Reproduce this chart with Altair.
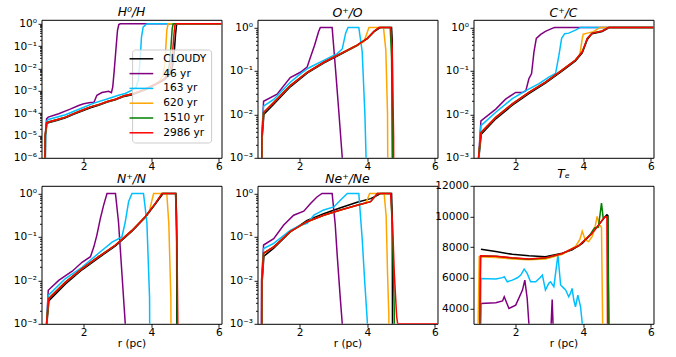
import math
import altair as alt
import pandas as pd

SERIES = ["CLOUDY", "46 yr", "163 yr", "620 yr", "1510 yr", "2986 yr"]
COLORS = ["#000000", "#800080", "#00bfff", "#ffa500", "#008000", "#ff0000"]
FONT = "DejaVu Sans"

# ---------------- H0/H : (r [pc], fraction) ----------------
h0_cloudy = [(0.85, 1e-8), (0.87, 1e-5), (0.91, 3.4e-5), (0.95, 3.7e-5), (1.20, 4.6e-5), (1.46, 6.1e-5),
             (1.70, 8.8e-5), (1.95, 1.25e-4), (2.20, 1.75e-4), (2.44, 2.25e-4), (2.70, 3.1e-4), (2.94, 3.9e-4),
             (3.20, 5.6e-4), (3.43, 6.6e-4), (3.80, 1.08e-3), (4.10, 1.8e-3), (4.37, 3.0e-3), (4.55, 5.5e-3),
             (4.63, 1.2e-2), (4.68, 5e-2), (4.72, 0.35), (4.75, 0.9), (4.78, 1.0), (6.10, 1.0)]
h0_46 = [(0.84, 1e-8), (0.86, 1e-5), (0.90, 5.5e-5), (0.95, 6.6e-5), (1.26, 9.3e-5), (1.60, 1.5e-4),
         (1.85, 2.2e-4), (2.00, 2.6e-4), (2.20, 2.95e-4), (2.30, 2.95e-4), (2.39, 6.3e-4), (2.54, 8.3e-4),
         (2.74, 9.5e-4), (2.82, 8.3e-4), (2.86, 1.5e-3), (2.90, 7e-3), (2.95, 6e-2), (3.00, 0.5),
         (3.04, 0.92), (3.08, 1.0), (6.10, 1.0)]
h0_163 = [(0.85, 1e-8), (0.87, 1e-5), (0.91, 4.5e-5), (0.95, 5.2e-5), (1.46, 8.5e-5), (1.95, 1.7e-4),
          (2.30, 2.8e-4), (2.74, 4.5e-4), (3.03, 6.3e-4), (3.23, 7.6e-4), (3.43, 1.07e-3), (3.55, 1.4e-3),
          (3.62, 3.2e-3), (3.67, 2.5e-2), (3.71, 0.25), (3.76, 0.7), (3.85, 0.95), (3.92, 1.0), (6.10, 1.0)]
h0_620 = [(0.84, 1e-8), (0.86, 1e-5), (0.90, 3.7e-5), (0.95, 4.0e-5), (1.20, 5.0e-5), (1.46, 6.6e-5),
          (1.70, 9.5e-5), (1.95, 1.35e-4), (2.20, 1.9e-4), (2.44, 2.4e-4), (2.70, 3.3e-4), (2.94, 4.2e-4),
          (3.20, 6.0e-4), (3.43, 7.1e-4), (3.80, 1.15e-3), (4.10, 1.9e-3), (4.25, 2.8e-3), (4.35, 5e-3),
          (4.40, 1.5e-2), (4.43, 8e-2), (4.46, 0.5), (4.50, 1.0), (6.10, 1.0)]
h0_1510 = [(0.84, 1e-8), (0.86, 1e-5), (0.90, 3.7e-5), (0.95, 4.0e-5), (1.20, 5.0e-5), (1.46, 6.6e-5),
           (1.70, 9.5e-5), (1.95, 1.35e-4), (2.20, 1.9e-4), (2.44, 2.4e-4), (2.70, 3.3e-4), (2.94, 4.2e-4),
           (3.20, 6.0e-4), (3.43, 7.1e-4), (3.80, 1.15e-3), (4.10, 1.9e-3), (4.37, 3.2e-3), (4.45, 5e-3),
           (4.53, 1.3e-2), (4.58, 8e-2), (4.62, 0.6), (4.65, 1.0), (6.10, 1.0)]
h0_2986 = [(0.84, 1e-8), (0.86, 1e-5), (0.90, 3.7e-5), (0.95, 4.0e-5), (1.20, 5.0e-5), (1.46, 6.6e-5),
           (1.70, 9.5e-5), (1.95, 1.35e-4), (2.20, 1.9e-4), (2.44, 2.4e-4), (2.70, 3.3e-4), (2.94, 4.2e-4),
           (3.20, 6.0e-4), (3.43, 7.1e-4), (3.80, 1.15e-3), (4.10, 1.9e-3), (4.37, 3.2e-3), (4.50, 5.5e-3),
           (4.58, 1.2e-2), (4.63, 5e-2), (4.67, 0.3), (4.70, 0.85), (4.73, 1.0), (6.10, 1.0)]

# ---------------- O+/O ----------------
o_cloudy = [(0.85, 1e-8), (0.89, 3e-3), (0.94, 1.0e-2), (1.23, 1.7e-2), (1.72, 4.3e-2), (2.22, 8.9e-2),
            (2.71, 0.152), (3.21, 0.24), (3.70, 0.38), (4.00, 0.55), (4.20, 0.8), (4.40, 1.0), (4.72, 1.0),
            (4.74, 0.5), (4.76, 1e-8)]
o_46 = [(0.83, 1e-8), (0.88, 3e-3), (0.93, 2.0e-2), (1.33, 2.9e-2), (1.72, 7e-2), (2.02, 9.3e-2),
        (2.22, 0.123), (2.32, 0.21), (2.44, 0.39), (2.56, 0.81), (2.61, 1.0), (2.96, 1.0), (3.06, 0.11),
        (3.16, 1.1e-2), (3.26, 1e-3), (3.30, 1e-8)]
o_163 = [(0.85, 1e-8), (0.89, 5e-3), (0.93, 1.55e-2), (1.23, 2.2e-2), (1.72, 5.5e-2), (2.02, 8.5e-2),
         (2.25, 0.115), (2.32, 0.123), (2.71, 0.174), (3.11, 0.25), (3.26, 0.32), (3.36, 0.74), (3.43, 1.0),
         (3.75, 1.0), (3.85, 0.28), (3.93, 1e-2), (4.00, 1e-4), (4.02, 1e-8)]
o_620 = [(0.84, 1e-8), (0.88, 3e-3), (0.93, 1.1e-2), (1.23, 1.86e-2), (1.72, 4.6e-2), (2.22, 9.3e-2),
         (2.71, 0.158), (3.21, 0.25), (3.70, 0.39), (3.90, 0.47), (3.98, 0.7), (4.05, 1.0), (4.48, 1.0),
         (4.55, 0.3), (4.60, 1e-2), (4.64, 1e-8)]
o_1510 = [(0.84, 1e-8), (0.88, 3e-3), (0.93, 1.1e-2), (1.23, 1.86e-2), (1.72, 4.6e-2), (2.22, 9.3e-2),
          (2.71, 0.158), (3.21, 0.25), (3.70, 0.39), (4.00, 0.56), (4.20, 0.81), (4.35, 1.0), (4.68, 1.0),
          (4.72, 0.2), (4.75, 1e-3), (4.77, 1e-8)]
o_2986 = [(0.84, 1e-8), (0.88, 3e-3), (0.93, 1.1e-2), (1.23, 1.86e-2), (1.72, 4.6e-2), (2.22, 9.3e-2),
          (2.71, 0.158), (3.21, 0.25), (3.70, 0.39), (4.00, 0.56), (4.20, 0.81), (4.35, 1.0), (4.70, 1.0),
          (4.74, 0.3), (4.78, 3e-3), (4.80, 1e-8)]

# ---------------- C+/C ----------------
c_cloudy = [(0.88, 1e-8), (0.91, 1e-3), (0.98, 3.5e-3), (1.41, 7.9e-3), (1.90, 1.62e-2), (2.39, 3.0e-2),
            (2.88, 5.2e-2), (3.38, 0.1), (3.77, 0.17), (3.97, 0.26), (4.05, 0.38), (4.12, 0.53), (4.26, 0.72),
            (4.56, 0.8), (4.78, 1.0), (6.10, 1.0)]
c_46 = [(0.87, 1e-8), (0.90, 1e-3), (0.97, 7.1e-3), (1.41, 1.32e-2), (1.70, 2.24e-2), (2.00, 3.2e-2),
        (2.20, 3.2e-2), (2.30, 3.5e-2), (2.39, 6.6e-2), (2.47, 8.7e-2), (2.54, 0.27), (2.61, 0.56),
        (2.74, 0.69), (2.88, 0.81), (3.08, 0.95), (3.15, 1.0), (6.10, 1.0)]
c_163 = [(0.88, 1e-8), (0.91, 1e-3), (0.97, 5.5e-3), (1.41, 1.12e-2), (1.90, 2.3e-2), (2.30, 3.5e-2),
         (2.69, 5.1e-2), (2.98, 7.2e-2), (3.18, 8.7e-2), (3.28, 0.23), (3.36, 0.56), (3.45, 0.72),
         (3.57, 0.74), (3.77, 0.87), (3.92, 1.0), (6.10, 1.0)]
c_620 = [(0.87, 1e-8), (0.90, 1e-3), (0.97, 3.8e-3), (1.41, 8.5e-3), (1.90, 1.74e-2), (2.39, 3.2e-2),
         (2.88, 5.5e-2), (3.38, 0.105), (3.77, 0.178), (3.90, 0.24), (3.97, 0.55), (4.00, 0.7), (4.12, 0.74),
         (4.30, 0.8), (4.50, 1.0), (6.10, 1.0)]
c_1510 = [(0.87, 1e-8), (0.90, 1e-3), (0.97, 3.8e-3), (1.41, 8.5e-3), (1.90, 1.74e-2), (2.39, 3.2e-2),
          (2.88, 5.5e-2), (3.38, 0.105), (3.77, 0.178), (3.97, 0.275), (4.05, 0.4), (4.12, 0.56),
          (4.26, 0.74), (4.56, 0.83), (4.75, 1.0), (6.10, 1.0)]
c_2986 = [(0.87, 1e-8), (0.90, 1e-3), (0.97, 3.8e-3), (1.41, 8.5e-3), (1.90, 1.74e-2), (2.39, 3.2e-2),
          (2.88, 5.5e-2), (3.38, 0.105), (3.77, 0.178), (3.97, 0.275), (4.05, 0.4), (4.12, 0.56),
          (4.26, 0.74), (4.56, 0.83), (4.75, 1.0), (6.10, 1.0)]

# ---------------- N+/N ----------------
n_cloudy = [(0.87, 1e-8), (0.91, 1e-3), (0.97, 3.4e-3), (1.46, 8.3e-3), (1.95, 1.75e-2), (2.44, 3.3e-2),
            (2.94, 6.2e-2), (3.43, 0.135), (3.82, 0.28), (4.12, 0.57), (4.35, 1.0), (4.73, 1.0),
            (4.75, 0.3), (4.77, 1e-8)]
n_46 = [(0.87, 1e-8), (0.90, 1e-3), (0.95, 5.9e-3), (1.26, 1.0e-2), (1.66, 1.62e-2), (1.95, 2.6e-2),
        (2.20, 3.5e-2), (2.30, 5.9e-2), (2.39, 0.11), (2.49, 0.26), (2.59, 0.54), (2.69, 1.0), (2.94, 1.0),
        (3.03, 0.22), (3.13, 1.5e-2), (3.23, 1e-3), (3.26, 1e-8)]
n_163 = [(0.87, 1e-8), (0.90, 1e-3), (0.95, 4.5e-3), (1.46, 1.1e-2), (1.95, 2.0e-2), (2.44, 4.2e-2),
         (2.84, 7.6e-2), (3.13, 0.1), (3.23, 0.22), (3.33, 0.65), (3.43, 1.0), (3.77, 1.0), (3.87, 0.22),
         (3.95, 4e-3), (3.98, 1e-8)]
n_620 = [(0.86, 1e-8), (0.90, 1e-3), (0.96, 3.8e-3), (1.46, 9.1e-3), (1.95, 1.86e-2), (2.44, 3.5e-2),
         (2.94, 6.5e-2), (3.43, 0.141), (3.82, 0.29), (3.95, 0.4), (4.00, 0.6), (4.07, 1.0), (4.46, 1.0),
         (4.52, 0.2), (4.58, 4e-3), (4.62, 1e-8)]
n_1510 = [(0.86, 1e-8), (0.90, 1e-3), (0.96, 3.8e-3), (1.46, 9.1e-3), (1.95, 1.86e-2), (2.44, 3.5e-2),
          (2.94, 6.5e-2), (3.43, 0.141), (3.82, 0.29), (4.12, 0.59), (4.32, 1.0), (4.72, 1.0),
          (4.76, 0.05), (4.79, 1e-8)]
n_2986 = [(0.86, 1e-8), (0.90, 1e-3), (0.96, 3.8e-3), (1.46, 9.1e-3), (1.95, 1.86e-2), (2.44, 3.5e-2),
          (2.94, 6.5e-2), (3.43, 0.141), (3.82, 0.29), (4.12, 0.59), (4.32, 1.0), (4.72, 1.0),
          (4.76, 0.1), (4.80, 1e-4), (4.82, 1e-8)]

# ---------------- Ne+/Ne ----------------
ne_cloudy = [(0.86, 1e-8), (0.89, 1e-2), (0.94, 3.6e-2), (1.23, 5.5e-2), (1.72, 0.13), (2.22, 0.24),
             (2.71, 0.34), (3.21, 0.47), (3.70, 0.63), (4.10, 0.76), (4.30, 0.9), (4.40, 1.0), (4.72, 1.0),
             (4.74, 0.3), (4.76, 1e-8)]
ne_46 = [(0.83, 1e-8), (0.87, 1e-2), (0.93, 6.5e-2), (1.23, 9.1e-2), (1.52, 0.186), (1.82, 0.316),
         (2.12, 0.39), (2.32, 0.59), (2.51, 0.83), (2.66, 1.0), (2.96, 1.0), (3.05, 0.2), (3.11, 3.8e-2),
         (3.20, 4e-3), (3.26, 1e-3), (3.30, 1e-8)]
ne_163 = [(0.85, 1e-8), (0.88, 1e-2), (0.93, 5.4e-2), (1.23, 7.1e-2), (1.72, 0.141), (2.02, 0.186),
          (2.22, 0.204), (2.42, 0.316), (2.71, 0.417), (3.01, 0.49), (3.21, 0.71), (3.41, 1.0), (3.75, 1.0),
          (3.85, 9e-2), (3.93, 8e-3), (4.00, 1.2e-3), (4.03, 1e-8)]
ne_620 = [(0.85, 1e-8), (0.88, 1e-2), (0.93, 4.2e-2), (1.23, 5.9e-2), (1.72, 0.132), (2.22, 0.224),
          (2.71, 0.316), (3.21, 0.417), (3.70, 0.537), (3.95, 0.6), (4.00, 0.72), (4.07, 1.0), (4.50, 1.0),
          (4.56, 0.3), (4.60, 1.5e-2), (4.64, 1.5e-3), (4.66, 1e-8)]
ne_1510 = [(0.85, 1e-8), (0.88, 1e-2), (0.93, 4.2e-2), (1.23, 5.9e-2), (1.72, 0.132), (2.22, 0.224),
           (2.71, 0.316), (3.21, 0.417), (3.70, 0.537), (4.10, 0.646), (4.30, 1.0), (4.70, 1.0),
           (4.75, 0.1), (4.80, 2e-3), (4.82, 1e-8)]
ne_2986 = [(0.85, 1e-8), (0.88, 1e-2), (0.93, 4.2e-2), (1.23, 5.9e-2), (1.72, 0.132), (2.22, 0.224),
           (2.71, 0.316), (3.21, 0.417), (3.70, 0.537), (4.10, 0.646), (4.30, 1.0), (4.69, 1.0),
           (4.75, 0.2), (4.80, 1.5e-2), (4.87, 1.5e-3), (4.90, 1e-3), (6.10, 1e-3)]

# ---------------- Te [K] ----------------
te_cloudy = [(0.97, 7860), (1.41, 7710), (1.90, 7530), (2.39, 7430), (2.88, 7380), (3.38, 7600),
             (3.67, 7820), (3.97, 8250), (4.26, 8910), (4.46, 9450), (4.65, 10000), (4.70, 10110),
             (4.73, 10050), (4.76, 2000)]
te_46 = [(0.95, 2000), (0.97, 4330), (1.41, 4380), (1.61, 4490), (1.66, 4760), (1.80, 4000), (2.00, 4220),
         (2.20, 5200), (2.27, 5850), (2.34, 4650), (2.39, 3020), (2.41, 2000), (3.03, 2000), (3.08, 4590),
         (3.12, 2000), (4.00, 2000)]
te_163 = [(0.95, 2000), (0.97, 5960), (1.41, 5920), (1.61, 6010), (1.66, 6070), (1.75, 5740), (1.90, 5850),
          (2.05, 6000), (2.15, 6180), (2.25, 6570), (2.34, 6290), (2.44, 5740), (2.59, 5740), (2.72, 6000),
          (2.79, 6180), (2.88, 5200), (2.98, 5640), (3.03, 5740), (3.13, 5420), (3.25, 7490), (3.33, 5530),
          (3.43, 5310), (3.48, 5200), (3.57, 4760), (3.62, 4980), (3.67, 5310), (3.72, 4550), (3.77, 4110),
          (3.84, 4870), (3.92, 4110), (3.97, 3020), (3.98, 2000)]
te_620 = [(0.88, 2000), (0.92, 7370), (1.41, 7330), (1.90, 7230), (2.39, 7180), (2.88, 7230), (3.38, 7530),
          (3.77, 8050), (3.90, 8500), (3.97, 9040), (4.06, 8470), (4.16, 8360), (4.26, 8690), (4.34, 9200),
          (4.41, 10000), (4.48, 9450), (4.54, 9300), (4.58, 2000)]
te_1510 = [(0.93, 2000), (0.96, 7420), (1.41, 7400), (1.90, 7290), (2.39, 7210), (2.88, 7290), (3.38, 7580),
           (3.87, 8090), (4.20, 8800), (4.33, 9250), (4.45, 9300), (4.54, 10870), (4.59, 9900), (4.68, 10000),
           (4.73, 9950), (4.75, 2000)]
te_2986 = [(0.93, 2000), (0.96, 7430), (1.41, 7410), (1.90, 7300), (2.39, 7220), (2.88, 7300), (3.38, 7590),
           (3.87, 8100), (4.26, 8910), (4.46, 9450), (4.60, 9890), (4.66, 10000), (4.70, 9950), (4.72, 2000)]

PANELS = [
    ("H⁰/H", [h0_cloudy, h0_46, h0_163, h0_620, h0_1510, h0_2986], "log", [1e-6, 1.5]),
    ("O⁺/O", [o_cloudy, o_46, o_163, o_620, o_1510, o_2986], "log", [1e-3, 1.5]),
    ("C⁺/C", [c_cloudy, c_46, c_163, c_620, c_1510, c_2986], "log", [1e-3, 1.5]),
    ("N⁺/N", [n_cloudy, n_46, n_163, n_620, n_1510, n_2986], "log", [1e-3, 1.5]),
    ("Ne⁺/Ne", [ne_cloudy, ne_46, ne_163, ne_620, ne_1510, ne_2986], "log", [1e-3, 1.5]),
    ("Tₑ", [te_cloudy, te_46, te_163, te_620, te_1510, te_2986], "linear", [3000, 12000]),
]

X_DOMAIN = [0.75, 6.08]
W, H = 180, 138
SUP = {"-": "⁻", "0": "⁰", "1": "¹", "2": "²", "3": "³", "4": "⁴", "5": "⁵", "6": "⁶"}


def power_label_expr(exps):
    expr = "''"
    for e in exps:
        txt = "10" + "".join(SUP[ch] for ch in str(e))
        expr = f"round(log(datum.value)/LN10) == {e} ? '{txt}' : ({expr})"
    return expr


def to_frame(lists):
    rows = []
    for name, pts in zip(SERIES, lists):
        for r, v in pts:
            rows.append({"r": r, "v": v, "series": name})
    return pd.DataFrame(rows)


legend = alt.Legend(
    orient="none", legendX=90.6, legendY=29.7, title=None,
    symbolType="M-3.39,0H3.39", symbolSize=49, symbolStrokeWidth=1.5,
    labelFont=FONT, labelFontSize=10.6, labelColor="black", labelOffset=16.6,
    rowPadding=3.8, padding=4, cornerRadius=3,
    strokeColor="#cccccc", fillColor="rgba(255,255,255,0.8)",
)


def panel(idx):
    title, lists, kind, ydom = PANELS[idx]
    df = to_frame(lists)
    bottom = idx >= 3
    xaxis = alt.Axis(values=[2, 4, 6], format="d", title="r (pc)" if bottom else None,
                     labelPadding=0, titlePadding=0.5)
    xscale = alt.Scale(domain=X_DOMAIN, nice=False, zero=False)
    cscale = alt.Scale(domain=SERIES, range=COLORS)
    if kind == "log":
        lo = round(math.log10(ydom[0]))
        exps = list(range(lo, 1))
        yscale = alt.Scale(type="log", domain=ydom, nice=False)
        major = alt.Axis(values=[10.0 ** e for e in exps], labelExpr=power_label_expr(exps), title=None)
        minor_vals = [m * 10.0 ** e for e in range(lo, 1) for m in range(2, 10) if m * 10.0 ** e <= ydom[1]]
        minor = alt.Axis(values=minor_vals, labels=False, tickSize=2, orient="left", title=None)
        yaxes = [major, minor, None, None, None, None]
    else:
        yscale = alt.Scale(domain=ydom, nice=False, zero=False)
        major = alt.Axis(values=[4000, 6000, 8000, 10000, 12000], format="d", title=None)
        yaxes = [major] * 6
    layers = []
    for i, s in enumerate(SERIES):
        layers.append(
            alt.Chart(df)
            .transform_filter(alt.datum.series == s)
            .mark_line(clip=True, strokeWidth=1.5)
            .encode(
                x=alt.X("r:Q", scale=xscale, axis=xaxis),
                y=alt.Y("v:Q", scale=yscale, axis=yaxes[i]),
                color=alt.Color("series:N", scale=cscale, legend=legend if idx == 0 else None),
            )
        )
    ch = alt.layer(*layers).properties(
        width=W, height=H,
        title=alt.TitleParams(title, font=FONT, fontSize=12.4, fontStyle="italic",
                              fontWeight="normal", color="black", offset=0.5),
    )
    if kind == "log":
        ch = ch.resolve_axis(y="independent")
    return ch


chart = (
    alt.concat(*[panel(i) for i in range(6)], columns=3,
               spacing=alt.RowColnumber(row=28, column=36), bounds="flush")
    .resolve_scale(x="independent", y="independent", color="independent")
    .properties(padding={"left": 12.5, "top": 4.8, "right": 5, "bottom": 5}, background="white")
    .configure_view(stroke="black", strokeWidth=1)
    .configure_axis(
        labelFont=FONT, labelFontSize=10.6, labelColor="black", tickColor="black",
        tickSize=3.5, tickWidth=0.9, labelPadding=1.5, domain=False, grid=False,
        titleFont=FONT, titleFontSize=10.6, titleFontWeight="normal", titleColor="black", titlePadding=3,
    )
)

chart.save("out.html", embed_options={"renderer": "svg", "actions": False})
